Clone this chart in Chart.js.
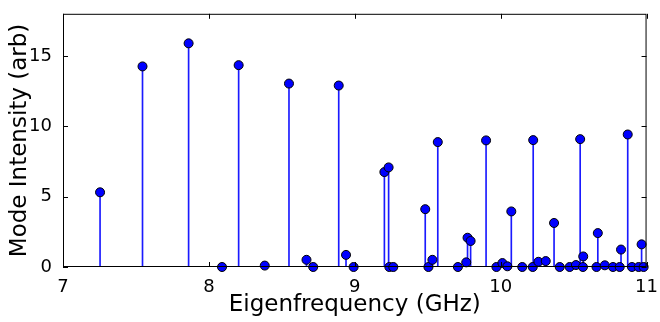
<!DOCTYPE html>
<html>
<head>
<meta charset="utf-8">
<script src="https://cdn.jsdelivr.net/npm/chart.js@4"></script>
<style>
  html, body { margin: 0; padding: 0; background: #fff; }
  #wrap { width: 660px; height: 322px; }
</style>
</head>
<body>
<div id="wrap"><canvas id="modeChart"></canvas></div>
<script>
// Eigenfrequencies (GHz) and mode intensities (arb)
const freqs = [
    7.254, 7.545, 7.861, 8.090, 8.204, 8.383, 8.549, 8.669, 8.715, 8.890,
    8.940, 8.992, 9.203, 9.232, 9.237, 9.264, 9.483, 9.505, 9.532, 9.569,
    9.707, 9.764, 9.773, 9.794, 9.900, 9.971, 10.012, 10.046, 10.073, 10.148,
    10.220, 10.223, 10.259, 10.309, 10.366, 10.405, 10.473, 10.516, 10.545, 10.564,
    10.566, 10.657, 10.666, 10.714, 10.770, 10.816, 10.825, 10.871, 10.900, 10.946,
    10.966, 10.980
];
const intensities = [
    5.31, 14.26, 15.9, 0.0, 14.35, 0.1, 13.04, 0.51, 0.0, 12.9,
    0.86, 0.0, 6.75, 7.08, 0.0, 0.0, 4.11, 0.0, 0.51, 8.88,
    0.0, 0.33, 2.08, 1.85, 9.0, 0.0, 0.28, 0.05, 3.95, 0.0,
    0.0, 9.02, 0.37, 0.42, 3.13, 0.0, 0.0, 0.14, 9.09, 0.0,
    0.75, 0.0, 2.41, 0.12, 0.0, 0.0, 1.24, 9.42, 0.0, 0.0,
    1.61, 0.0
];
const xTicks = [7, 8, 9, 10, 11];
const yTicks = [0, 5, 10, 15];

const points = freqs.map((f, i) => ({ x: f, y: intensities[i] }));

// matplotlib-like frame with inward ticks on all four sides
const framePlugin = {
    id: 'frame',
    afterDatasetsDraw(chart) {
        const { ctx, chartArea: a, scales } = chart;
        ctx.save();
        ctx.strokeStyle = '#000';
        ctx.lineWidth = 1;
        ctx.strokeRect(a.left + 0.5, a.top + 0.5, a.right - a.left - 1, a.bottom - a.top - 1);
        ctx.beginPath();
        xTicks.forEach(v => {
            const px = Math.round(scales.x.getPixelForValue(v)) + 0.5;
            ctx.moveTo(px, a.bottom); ctx.lineTo(px, a.bottom - 5);
            ctx.moveTo(px, a.top); ctx.lineTo(px, a.top + 5);
        });
        yTicks.forEach(v => {
            const py = Math.round(scales.y.getPixelForValue(v)) + 0.5;
            ctx.moveTo(a.left, py); ctx.lineTo(a.left + 5, py);
            ctx.moveTo(a.right, py); ctx.lineTo(a.right - 5, py);
        });
        ctx.stroke();
        ctx.restore();
    }
};

const tickFont = { family: 'DejaVu Sans', size: 18 };
const titleFont = { family: 'DejaVu Sans', size: 23 };

new Chart(document.getElementById('modeChart'), {
    type: 'scatter',
    data: {
        datasets: [
            {
                type: 'bar',
                data: points,
                backgroundColor: '#1a1aff',
                barThickness: 1,
                order: 2
            },
            {
                type: 'scatter',
                data: points,
                pointRadius: 4.5,
                pointBackgroundColor: '#0000ff',
                pointBorderColor: '#000',
                pointBorderWidth: 1,
                clip: false,
                order: 1
            }
        ]
    },
    options: {
        responsive: true,
        maintainAspectRatio: false,
        animation: false,
        layout: { padding: { top: 11, right: 9, left: 6, bottom: 0 } },
        plugins: {
            legend: { display: false },
            tooltip: { enabled: false }
        },
        scales: {
            x: {
                type: 'linear',
                min: 7,
                max: 11,
                offset: false,
                afterBuildTicks: s => { s.ticks = xTicks.map(v => ({ value: v })); },
                afterFit: s => { s.height = 55; },
                ticks: { color: '#000', font: tickFont, padding: 2, maxRotation: 0 },
                grid: { display: false, offset: false },
                border: { display: false },
                title: { display: true, text: 'Eigenfrequency (GHz)', color: '#000', font: titleFont, padding: { top: 0, bottom: 3 } }
            },
            y: {
                min: 0,
                max: 18,
                afterBuildTicks: s => { s.ticks = yTicks.map(v => ({ value: v })); },
                afterFit: s => { s.width = 57; },
                ticks: { color: '#000', font: tickFont, padding: 3 },
                grid: { display: false },
                border: { display: false },
                title: { display: true, text: 'Mode Intensity (arb)', color: '#000', font: titleFont, padding: { top: 0, bottom: 0 } }
            }
        }
    },
    plugins: [framePlugin]
});
</script>
</body>
</html>
